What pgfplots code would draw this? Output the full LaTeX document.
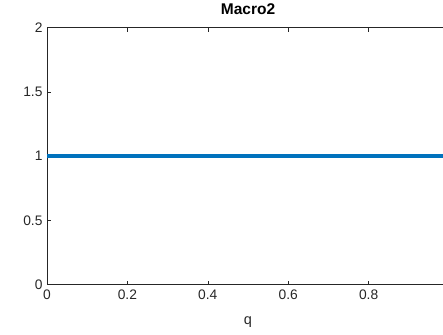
\documentclass[border=0pt]{standalone}
\usepackage{fontspec}
\setmainfont{Liberation Sans}
\usepackage{pgfplots}
\pgfplotsset{compat=1.18}
\definecolor{mblue}{rgb}{0,0.447,0.741}
\definecolor{maxis}{rgb}{0.15,0.15,0.15}
\begin{document}
\begin{tikzpicture}[x=1pt,y=1pt]
\begin{axis}[
  at={(47pt,49.3pt)}, anchor=south west,
  scale only axis, width=402pt, height=257pt,
  xmin=0, xmax=1, ymin=0, ymax=2,
  xtick={0,0.2,0.4,0.6,0.8}, ytick={0,0.5,1,1.5,2},
  tick align=inside, major tick length=4pt,
  axis line style={maxis, line width=0.6pt},
  tick style={maxis, line width=0.6pt},
  /pgf/number format/assume math mode=true,
  ticklabel style={font=\fontsize{13.8}{16}\selectfont, text=maxis},
  xticklabel style={yshift=-2pt},
  yticklabel style={xshift=-1pt},
  title={\textbf{Macro2}},
  title style={font=\fontsize{15.5}{18}\selectfont, at={(0.5,1)}, anchor=base, yshift=6.8pt},
  xlabel={q},
  xlabel style={font=\fontsize{14.5}{17}\selectfont, text=maxis, at={(0.5,0)}, anchor=base, yshift=-40pt},
]
\addplot[mblue, line width=4.6pt] coordinates {(0,1) (1,1)};
\end{axis}
\pgfresetboundingbox
\useasboundingbox (0,0) rectangle (443,334);
\end{tikzpicture}
\end{document}
